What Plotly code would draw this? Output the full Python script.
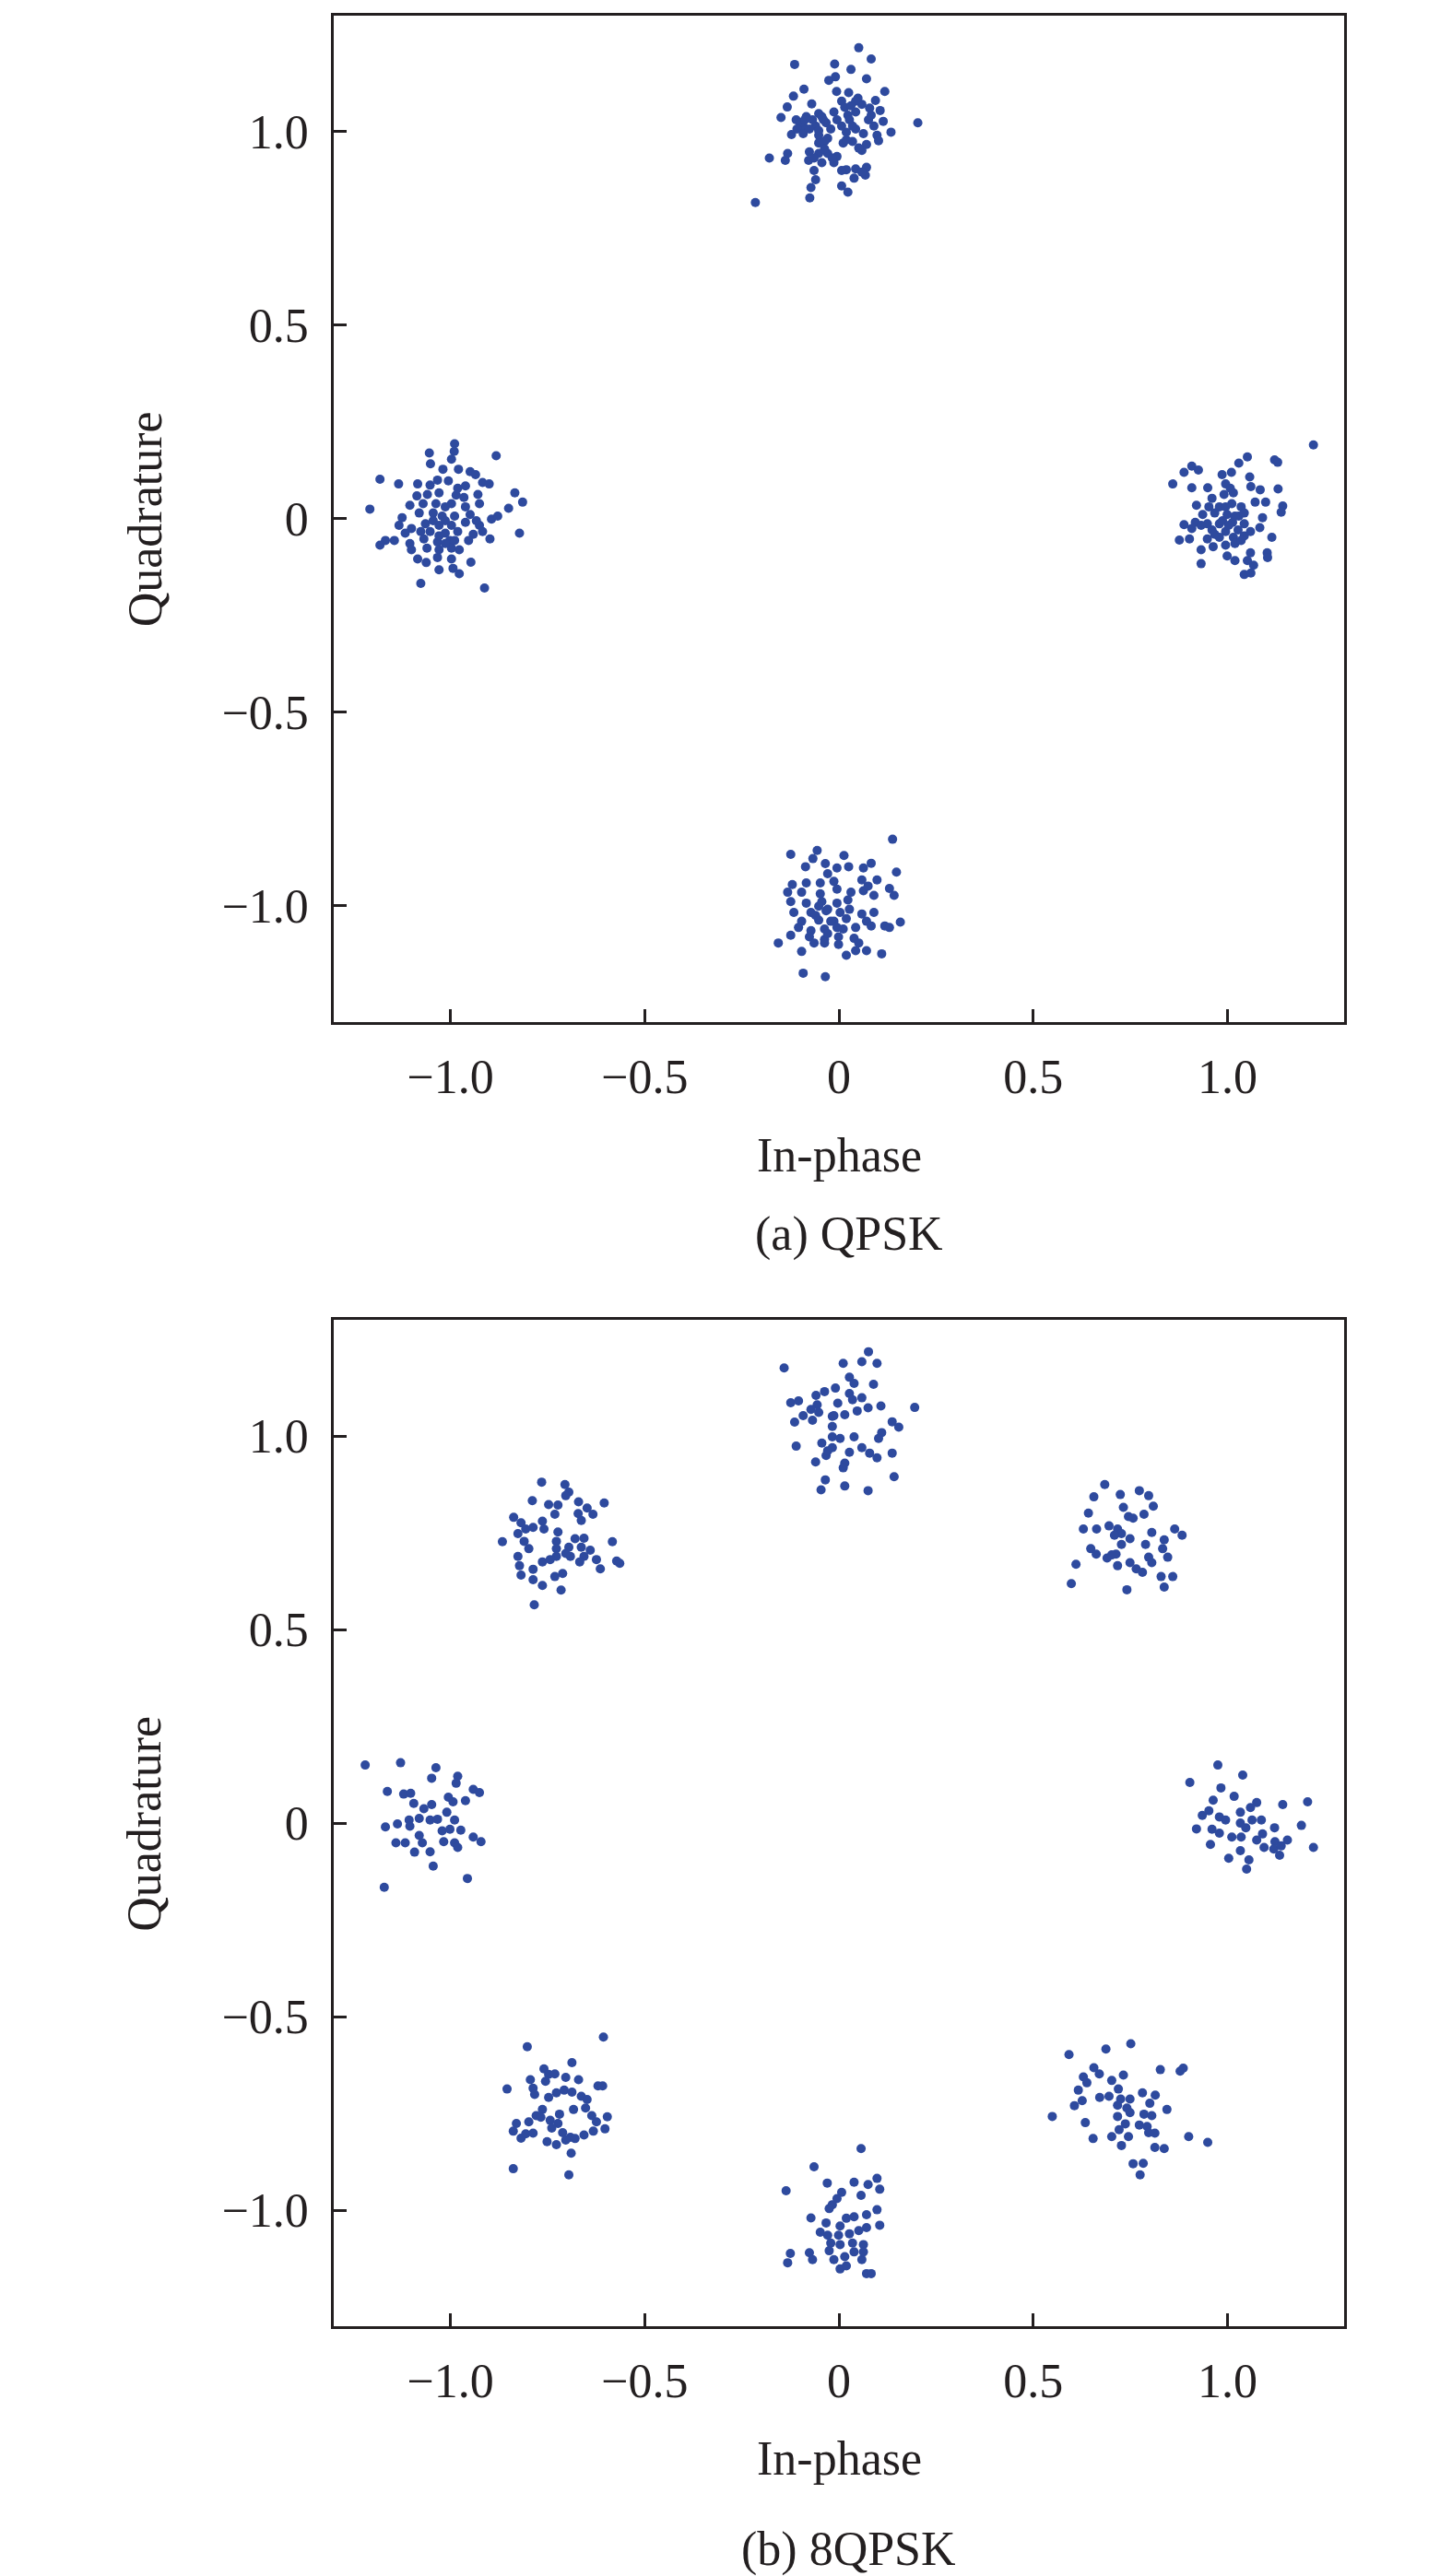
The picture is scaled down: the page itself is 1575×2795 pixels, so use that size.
import plotly.graph_objects as go

# (a) QPSK, one list pair per cluster
qpsk_up_i = [0.051, 0.083, -0.114, -0.011, 0.031, -0.009, -0.026, 0.071, -0.090, -0.117,
             0.118, -0.006, 0.025, 0.094, 0.049, 0.007, -0.133, -0.070, 0.079, 0.106,
             -0.149, -0.110, -0.052, -0.013, 0.023, 0.043, 0.076, 0.114, 0.203, -0.092,
             -0.060, -0.033, 0.090, 0.134, -0.122, -0.052, -0.029, 0.019, 0.043, 0.063,
             0.098, 0.011, 0.035, 0.071, 0.102, 0.059, -0.179, -0.132, -0.138, -0.076,
             -0.052, -0.029, -0.005, -0.078, -0.044, -0.013, -0.064, 0.019, 0.043, 0.071,
             -0.060, 0.039, 0.068, -0.072, 0.007, 0.023, -0.075, -0.215, -0.100, -0.108,
             -0.084, -0.040, -0.021, 0.027, 0.015, 0.059, -0.052, -0.037, -0.092,
             -0.068, -0.044, -0.005, 0.007, 0.035, -0.052, -0.076, 0.019, 0.051, -0.064,
             -0.017, 0.007, 0.059, 0.043, 0.031, 0.083, -0.088, -0.037]
qpsk_up_q = [1.217, 1.188, 1.174, 1.175, 1.161, 1.142, 1.133, 1.137, 1.110, 1.092,
             1.104, 1.104, 1.101, 1.081, 1.087, 1.079, 1.064, 1.072, 1.061, 1.055,
             1.037, 1.031, 1.047, 1.051, 1.043, 1.051, 1.031, 1.027, 1.023, 1.015,
             1.015, 1.023, 1.015, 0.999, 0.993, 0.991, 0.983, 0.999, 1.007, 0.995,
             0.991, 0.971, 0.975, 0.967, 0.977, 0.952, 0.932, 0.944, 0.926, 0.948,
             0.944, 0.944, 0.936, 0.926, 0.920, 0.920, 0.900, 0.902, 0.904, 0.908,
             0.876, 0.880, 0.888, 0.856, 0.860, 0.844, 0.829, 0.817, 1.023, 1.007,
             1.039, 1.031, 1.007, 1.031, 1.063, 1.071, 0.971, 0.975, 0.995,
             1.031, 1.039, 1.031, 1.015, 1.015, 1.003, 1.007, 0.979, 0.958, 0.932,
             0.932, 0.900, 0.896, 1.079, 1.067, 1.043, 1.031, 0.956]

qpsk_left_i = [-0.989, -0.990, -0.997, -1.054, -1.051, -0.882, -1.019, -0.979, -0.949, -0.935,
               -1.181, -1.133, -1.084, -1.033, -1.005, -0.961, -0.917, -0.900, -0.834, -0.814,
               -1.086, -1.059, -1.029, -0.985, -0.965, -0.929, -1.104, -1.070, -1.037, -0.997,
               -0.961, -0.925, -1.207, -0.850, -1.080, -1.124, -1.021, -0.989, -0.949, -0.894,
               -0.878, -1.132, -1.100, -1.064, -1.029, -0.997, -0.961, -0.925, -1.116, -1.052,
               -1.013, -0.981, -0.941, -0.917, -0.822, -0.898, -1.167, -1.144, -1.181, -1.104,
               -1.068, -1.033, -1.001, -1.100, -1.060, -1.029, -0.997, -0.977, -1.084, -1.062,
               -1.033, -0.997, -0.947, -1.029, -0.993, -0.977, -1.076, -0.912,
               -1.013, -1.044, -1.013, -1.044, -1.076, -0.989, -1.013, -0.953, -0.933, -1.029,
               -1.052, -0.981]
qpsk_left_q = [0.194, 0.174, 0.154, 0.170, 0.142, 0.163, 0.128, 0.128, 0.122, 0.114,
               0.102, 0.090, 0.090, 0.100, 0.098, 0.085, 0.094, 0.090, 0.067, 0.043,
               0.059, 0.063, 0.067, 0.061, 0.055, 0.063, 0.035, 0.039, 0.039, 0.039,
               0.031, 0.039, 0.025, 0.027, 0.015, 0.003, 0.007, 0.007, 0.011, -0.001,
               0.007, -0.017, -0.025, -0.013, -0.017, -0.017, -0.009, -0.017, -0.037, -0.033,
               -0.037, -0.033, -0.040, -0.033, -0.037, -0.052, -0.056, -0.056, -0.068, -0.064,
               -0.052, -0.060, -0.056, -0.080, -0.076, -0.080, -0.076, -0.080, -0.104, -0.113,
               -0.100, -0.104, -0.112, -0.132, -0.128, -0.142, -0.167, -0.179,
               0.031, 0.015, -0.005, -0.005, -0.033, -0.056, -0.064, -0.056, -0.005, -0.044,
               0.087, 0.079]

qpsk_right_i = [1.221, 1.051, 1.029, 1.121, 1.129, 0.908, 0.888, 0.925, 1.010, 0.986,
                1.057, 0.859, 0.908, 0.949, 0.995, 1.060, 1.084, 1.130, 0.960, 0.991,
                1.015, 1.071, 1.098, 1.142, 0.920, 0.952, 0.979, 1.011, 1.035, 1.138,
                0.936, 0.967, 0.999, 1.029, 1.090, 0.888, 0.917, 0.948, 0.979, 1.013,
                1.043, 0.908, 0.960, 0.995, 1.027, 1.083, 0.876, 0.902, 0.948, 0.979,
                1.015, 1.043, 1.114, 0.932, 0.963, 0.995, 1.019, 1.059, 1.102, 0.932,
                0.999, 1.019, 1.051, 1.067, 1.103, 1.043, 1.060,
                0.995, 1.019, 0.987, 1.043, 0.967, 1.003, 0.932, 1.035, 1.059, 1.007]
qpsk_right_q = [0.191, 0.160, 0.144, 0.152, 0.146, 0.136, 0.120, 0.126, 0.120, 0.114,
                0.108, 0.090, 0.080, 0.080, 0.090, 0.083, 0.075, 0.077, 0.053, 0.063,
                0.067, 0.043, 0.043, 0.033, 0.035, 0.031, 0.031, 0.039, 0.031, 0.017,
                0.011, 0.015, 0.011, 0.007, 0.003, -0.015, -0.009, -0.013, -0.013, -0.009,
                -0.013, -0.025, -0.029, -0.033, -0.029, -0.023, -0.055, -0.052, -0.052, -0.048,
                -0.048, -0.044, -0.048, -0.080, -0.072, -0.068, -0.064, -0.088, -0.088, -0.116,
                -0.096, -0.108, -0.108, -0.120, -0.100, -0.144, -0.140,
                0.031, 0.007, -0.005, 0.015, -0.040, -0.017, -0.017, -0.056, -0.033, 0.079]

qpsk_down_i = [0.138, -0.124, -0.056, -0.067, 0.013, -0.086, -0.035, -0.005, 0.025, 0.063,
               0.083, 0.148, -0.029, -0.120, -0.084, -0.048, -0.013, 0.059, 0.098, 0.130,
               -0.132, -0.096, -0.048, -0.005, 0.031, 0.063, 0.142, -0.124, -0.084, -0.044,
               -0.005, 0.023, -0.116, -0.072, -0.033, 0.003, 0.059, 0.090, -0.096, -0.052,
               -0.013, 0.019, 0.071, 0.118, 0.158, 0.130, -0.104, -0.072, -0.037, 0.011,
               0.043, 0.083, -0.124, -0.076, -0.037, -0.001, 0.039, -0.156, -0.064, -0.037,
               -0.001, 0.051, -0.096, 0.019, 0.043, 0.071, 0.110, -0.092, -0.035,
               -0.029, -0.060, -0.021, -0.052, 0.027, -0.005, 0.090, 0.075, -0.029]
qpsk_down_q = [-0.828, -0.867, -0.857, -0.878, -0.870, -0.899, -0.891, -0.902, -0.899, -0.902,
               -0.890, -0.913, -0.917, -0.945, -0.941, -0.941, -0.937, -0.933, -0.933, -0.955,
               -0.965, -0.965, -0.969, -0.957, -0.965, -0.961, -0.973, -0.989, -0.993, -0.989,
               -0.993, -0.985, -1.017, -1.017, -1.013, -1.017, -1.021, -1.017, -1.040, -1.037,
               -1.040, -1.033, -1.040, -1.052, -1.042, -1.056, -1.056, -1.064, -1.060, -1.060,
               -1.056, -1.052, -1.076, -1.080, -1.087, -1.080, -1.084, -1.096, -1.096, -1.096,
               -1.100, -1.096, -1.118, -1.128, -1.116, -1.116, -1.124, -1.174, -1.183,
               -1.009, -1.025, -1.040, -1.001, -1.009, -1.056, -0.973, -0.949, -1.072]

# (b) 8QPSK
p8_nw_i = [-0.765, -0.705, -0.695, -0.703, -0.789, -0.747, -0.723, -0.670, -0.604, -0.648,
           -0.633, -0.731, -0.671, -0.837, -0.818, -0.663, -0.787, -0.763, -0.759, -0.826,
           -0.806, -0.723, -0.866, -0.810, -0.727, -0.679, -0.656, -0.583, -0.798, -0.727,
           -0.695, -0.663, -0.640, -0.826, -0.727, -0.691, -0.656, -0.763, -0.667, -0.624,
           -0.572, -0.564, -0.822, -0.787, -0.614, -0.818, -0.731, -0.711, -0.787, -0.763,
           -0.715, -0.784, -0.743, -0.703]
p8_nw_q = [0.881, 0.875, 0.855, 0.846, 0.833, 0.823, 0.822, 0.830, 0.827, 0.814,
           0.798, 0.798, 0.800, 0.790, 0.776, 0.782, 0.764, 0.780, 0.760, 0.748,
           0.760, 0.752, 0.727, 0.728, 0.728, 0.735, 0.736, 0.727, 0.709, 0.709,
           0.713, 0.713, 0.705, 0.689, 0.689, 0.689, 0.689, 0.675, 0.675, 0.681,
           0.677, 0.671, 0.665, 0.656, 0.657, 0.641, 0.637, 0.645, 0.629, 0.614,
           0.602, 0.564, 0.681, 0.697]

p8_n_i = [-0.141, 0.011, 0.059, 0.098, 0.076, 0.027, 0.039, 0.089, -0.009, -0.037,
          -0.059, 0.027, 0.035, 0.059, -0.124, -0.104, -0.003, -0.056, -0.072, 0.108,
          0.075, 0.195, 0.047, -0.092, -0.017, 0.015, -0.114, -0.068, -0.052, -0.017,
          0.137, 0.154, 0.110, 0.102, -0.017, 0.003, 0.039, -0.110, -0.044, -0.017,
          0.059, 0.027, 0.079, 0.137, -0.033, 0.098, -0.060, 0.015, 0.011, 0.142,
          -0.035, -0.046, 0.015, 0.075, -0.013, -0.029]
p8_n_q = [1.176, 1.188, 1.192, 1.188, 1.218, 1.152, 1.136, 1.134, 1.124, 1.115,
          1.105, 1.110, 1.094, 1.099, 1.086, 1.091, 1.085, 1.081, 1.069, 1.078,
          1.073, 1.074, 1.065, 1.053, 1.051, 1.055, 1.036, 1.041, 1.061, 1.025,
          1.037, 1.023, 1.009, 0.994, 0.998, 0.994, 0.998, 0.974, 0.982, 0.970,
          0.970, 0.958, 0.956, 0.956, 0.950, 0.944, 0.933, 0.930, 0.918, 0.895,
          0.887, 0.861, 0.871, 0.859, 1.053, 0.962]

p8_ne_i = [0.684, 0.656, 0.724, 0.773, 0.797, 0.809, 0.642, 0.732, 0.745, 0.757,
           0.785, 0.629, 0.663, 0.695, 0.717, 0.727, 0.749, 0.805, 0.864, 0.883,
           0.837, 0.789, 0.727, 0.648, 0.662, 0.713, 0.690, 0.833, 0.846, 0.797,
           0.805, 0.610, 0.717, 0.749, 0.765, 0.781, 0.829, 0.859, 0.598, 0.741,
           0.837, 0.709, 0.702]
p8_ne_q = [0.875, 0.843, 0.849, 0.859, 0.846, 0.819, 0.801, 0.816, 0.792, 0.788,
           0.798, 0.760, 0.760, 0.768, 0.760, 0.748, 0.735, 0.751, 0.760, 0.744,
           0.732, 0.720, 0.720, 0.709, 0.695, 0.695, 0.685, 0.709, 0.687, 0.687,
           0.673, 0.669, 0.665, 0.673, 0.657, 0.648, 0.637, 0.637, 0.619, 0.603,
           0.610, 0.744, 0.693]

p8_w_i = [-1.219, -1.128, -1.037, -1.048, -0.981, -0.985, -1.162, -1.120, -1.102, -0.941,
          -0.925, -1.005, -0.993, -0.961, -1.094, -1.068, -1.048, -1.009, -1.106, -1.080,
          -1.052, -1.033, -0.989, -1.167, -1.136, -1.104, -1.021, -1.001, -0.973, -1.080,
          -0.941, -1.140, -1.116, -1.072, -1.017, -0.989, -0.921, -1.092, -1.052, -0.981,
          -1.044, -0.956, -1.170]
p8_w_q = [0.150, 0.156, 0.143, 0.116, 0.121, 0.103, 0.082, 0.075, 0.077, 0.087,
          0.079, 0.067, 0.055, 0.058, 0.051, 0.037, 0.048, 0.028, 0.008, 0.012,
          0.008, 0.010, 0.008, -0.010, -0.002, -0.008, -0.020, -0.016, -0.018, -0.032,
          -0.036, -0.051, -0.051, -0.051, -0.048, -0.051, -0.048, -0.075, -0.074, -0.063,
          -0.111, -0.143, -0.166]

p8_e_i = [0.975, 1.039, 0.983, 0.963, 1.017, 1.075, 1.142, 1.206, 0.952, 0.979,
          1.033, 1.059, 0.995, 1.033, 1.063, 1.087, 0.960, 0.979, 1.047, 1.121,
          1.190, 1.011, 1.035, 1.090, 1.075, 1.122, 1.154, 0.956, 1.094, 1.119,
          1.138, 1.221, 1.033, 1.134, 1.003, 1.055, 1.049, 0.903, 0.920, 0.935]
p8_e_q = [0.150, 0.124, 0.091, 0.059, 0.069, 0.053, 0.048, 0.055, 0.032, 0.016,
          0.028, 0.040, 0.008, 0.000, 0.008, 0.008, -0.016, -0.026, -0.012, -0.012,
          -0.006, -0.036, -0.036, -0.028, -0.044, -0.048, -0.044, -0.055, -0.063, -0.067,
          -0.059, -0.063, -0.071, -0.083, -0.091, -0.095, -0.119, 0.105, -0.015, 0.020]

p8_sw_i = [-0.606, -0.802, -0.687, -0.759, -0.747, -0.731, -0.703, -0.670, -0.794, -0.755,
           -0.620, -0.608, -0.854, -0.787, -0.783, -0.747, -0.727, -0.707, -0.687, -0.663,
           -0.648, -0.683, -0.652, -0.763, -0.779, -0.719, -0.636, -0.596, -0.798, -0.743,
           -0.723, -0.830, -0.838, -0.806, -0.787, -0.739, -0.711, -0.691, -0.656, -0.632,
           -0.602, -0.818, -0.751, -0.727, -0.703, -0.679, -0.689, -0.838, -0.695, -0.767,
           -0.624]
p8_sw_q = [-0.553, -0.578, -0.619, -0.635, -0.649, -0.648, -0.657, -0.663, -0.663, -0.667,
           -0.679, -0.679, -0.687, -0.685, -0.701, -0.709, -0.697, -0.690, -0.695, -0.706,
           -0.714, -0.740, -0.736, -0.740, -0.756, -0.752, -0.756, -0.759, -0.772, -0.768,
           -0.776, -0.776, -0.796, -0.803, -0.801, -0.788, -0.800, -0.812, -0.806, -0.796,
           -0.790, -0.814, -0.823, -0.831, -0.819, -0.815, -0.853, -0.893, -0.909, -0.760,
           -0.772]

p8_s_i = [0.057, -0.064, -0.136, -0.030, 0.039, 0.075, 0.098, 0.105, 0.057, 0.007,
          -0.005, -0.017, -0.025, 0.098, 0.071, -0.072, -0.033, 0.019, 0.039, 0.105,
          0.003, 0.071, -0.048, -0.029, -0.001, 0.027, 0.051, -0.021, 0.003, 0.035,
          0.063, -0.025, 0.039, -0.125, -0.076, -0.132, -0.068, -0.013, 0.015, 0.059,
          0.003, 0.019, 0.071, 0.083, 0.063]
p8_s_q = [-0.841, -0.888, -0.950, -0.930, -0.928, -0.934, -0.918, -0.946, -0.962, -0.954,
          -0.970, -0.986, -0.996, -0.999, -1.012, -1.020, -1.033, -1.021, -1.017, -1.039,
          -1.041, -1.045, -1.057, -1.065, -1.065, -1.061, -1.053, -1.085, -1.089, -1.085,
          -1.089, -1.105, -1.108, -1.112, -1.110, -1.136, -1.128, -1.128, -1.120, -1.128,
          -1.152, -1.144, -1.164, -1.164, -1.108]

p8_se_i = [0.592, 0.687, 0.751, 0.656, 0.670, 0.732, 0.827, 0.878, 0.886, 0.629,
           0.638, 0.702, 0.616, 0.719, 0.781, 0.814, 0.671, 0.695, 0.725, 0.749,
           0.626, 0.606, 0.717, 0.741, 0.800, 0.844, 0.549, 0.717, 0.749, 0.785,
           0.805, 0.634, 0.737, 0.773, 0.793, 0.721, 0.797, 0.813, 0.654, 0.702,
           0.745, 0.900, 0.949, 0.727, 0.813, 0.837, 0.757, 0.783, 0.775]
p8_se_q = [-0.598, -0.584, -0.570, -0.632, -0.648, -0.651, -0.637, -0.641, -0.633, -0.656,
           -0.671, -0.665, -0.690, -0.687, -0.697, -0.703, -0.709, -0.706, -0.713, -0.713,
           -0.717, -0.730, -0.729, -0.736, -0.724, -0.740, -0.758, -0.758, -0.748, -0.752,
           -0.756, -0.774, -0.777, -0.780, -0.784, -0.792, -0.800, -0.801, -0.815, -0.810,
           -0.810, -0.810, -0.825, -0.833, -0.838, -0.841, -0.880, -0.879, -0.909]

tick_vals = [-1.0, -0.5, 0, 0.5, 1.0]
tick_text = ["\u22121.0", "\u22120.5", "0", "0.5", "1.0"]

ink = "#231f20"
dot = "#2e4a9e"
font = "Liberation Serif, Times New Roman, serif"

qpsk_i = qpsk_up_i + qpsk_left_i + qpsk_right_i + qpsk_down_i
qpsk_q = qpsk_up_q + qpsk_left_q + qpsk_right_q + qpsk_down_q
p8_i = p8_nw_i + p8_n_i + p8_ne_i + p8_w_i + p8_e_i + p8_sw_i + p8_s_i + p8_se_i
p8_q = p8_nw_q + p8_n_q + p8_ne_q + p8_w_q + p8_e_q + p8_sw_q + p8_s_q + p8_se_q

fig = go.Figure()
fig.add_trace(go.Scatter(x=qpsk_i, y=qpsk_q, mode="markers", xaxis="x", yaxis="y",
                         marker=dict(size=10, color=dot), showlegend=False))
fig.add_trace(go.Scatter(x=p8_i, y=p8_q, mode="markers", xaxis="x2", yaxis="y2",
                         marker=dict(size=10, color=dot), showlegend=False))

axis_style = dict(range=[-1.3, 1.3], tickvals=tick_vals, ticktext=tick_text,
                  showline=True, mirror=True, linecolor=ink, linewidth=2.5,
                  ticks="inside", ticklen=14, tickwidth=2.5, tickcolor=ink,
                  showgrid=False, zeroline=False,
                  tickfont=dict(family=font, size=52, color=ink))

fig.update_layout(
    width=1575, height=2795,
    margin=dict(l=354, r=125, t=6, b=279),
    paper_bgcolor="white", plot_bgcolor="white",
    font=dict(family=font, size=52, color=ink),
    xaxis=dict(axis_style, domain=[0, 1], anchor="y", ticklabelstandoff=12),
    yaxis=dict(axis_style, domain=[0.5645, 1], anchor="x", ticklabelstandoff=14),
    xaxis2=dict(axis_style, domain=[0, 1], anchor="y2", ticklabelstandoff=12),
    yaxis2=dict(axis_style, domain=[0, 0.4355], anchor="x2", ticklabelstandoff=14),
)

labels = [
    ("Quadrature", -0.187, 0.7821, -90),
    ("Quadrature", -0.187, 0.2175, -90),
    ("In-phase", 0.5, 0.5068, 0),
    ("In-phase", 0.5, -0.0574, 0),
    ("(a) QPSK", 0.51, 0.4725, 0),
    ("(b) 8QPSK", 0.51, -0.0964, 0),
]
for text, x, y, angle in labels:
    fig.add_annotation(text=text, x=x, y=y, xref="paper", yref="paper",
                       xanchor="center", yanchor="middle", textangle=angle,
                       showarrow=False, font=dict(family=font, size=52, color=ink))

fig.write_html("out.html")
